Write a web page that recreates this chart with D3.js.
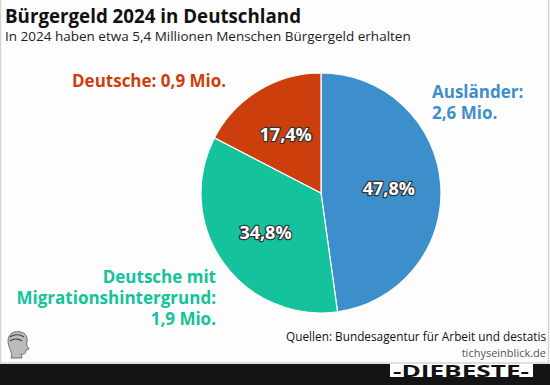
<!DOCTYPE html>
<meta charset="utf-8">
<head>
  <script src="https://cdn.jsdelivr.net/npm/d3@7"></script>
  <style>
    body { margin: 0; background: #141414; }
    text { font-family: "Open Sans", "Noto Sans", sans-serif; }
  </style>
</head>
<body>
<div id="chart"></div>
<script>
  // data
  const groups = ["Ausländer", "Deutsche mit Migrationshintergrund", "Deutsche"];
  const shares = [47.8, 34.8, 17.4];
  const shareLabels = ["47,8%", "34,8%", "17,4%"];
  const nameLines = [["Ausländer:", "2,6 Mio."], ["Deutsche mit", "Migrationshintergrund:", "1,9 Mio."], ["Deutsche: 0,9 Mio."]];
  const colors = ["#3d8fcc", "#14c29b", "#cc3f0c"];

  const width = 550, height = 385;
  const cx = 321, cy = 193, r = 120;

  var svg = d3.select("#chart").append("svg")
      .attr("width", width).attr("height", height);

  // white card
  svg.append("rect").attr("x", 0).attr("y", 0).attr("width", width).attr("height", 364)
     .attr("fill", "#fdfdfd");
  svg.append("rect").attr("x", 0.5).attr("y", -1).attr("width", width - 2).attr("height", 364)
     .attr("fill", "none").attr("stroke", "#d4d4d4").attr("stroke-width", 1.5);

  // titles
  svg.append("text").attr("x", 5).attr("y", 23)
     .attr("font-size", 19).attr("font-weight", "bold").attr("fill", "#111")
     .attr("textLength", 296).attr("lengthAdjust", "spacingAndGlyphs")
     .text("Bürgergeld 2024 in Deutschland");
  svg.append("text").attr("x", 5).attr("y", 41)
     .attr("font-size", 13.5).attr("fill", "#222")
     .text("In 2024 haben etwa 5,4 Millionen Menschen Bürgergeld erhalten");

  // pie
  var pie = d3.pie().sort(null).value(d => d);
  var arc = d3.arc().innerRadius(0).outerRadius(r);
  var labelArc = d3.arc().innerRadius(68).outerRadius(68);
  var arcs = pie(shares);

  var g = svg.append("g").attr("transform", "translate(" + cx + "," + cy + ")");
  g.selectAll("path").data(arcs).enter().append("path")
    .attr("d", arc)
    .attr("fill", (d, i) => colors[i])
    .attr("stroke", "#fff").attr("stroke-width", 1.2);

  g.selectAll("text.pct").data(arcs).enter().append("text")
    .attr("class", "pct")
    .attr("transform", d => "translate(" + labelArc.centroid(d) + ")")
    .attr("text-anchor", "middle").attr("dy", "0.36em")
    .attr("font-size", 18).attr("font-weight", "bold")
    .attr("fill", "#fff").attr("stroke", "#333").attr("stroke-width", 2.5)
    .attr("paint-order", "stroke").attr("stroke-linejoin", "round")
    .text((d, i) => shareLabels[i]);

  // outside labels
  const nameBoxes = [
    {x: 432, y: 98, anchor: "start"},
    {x: 216, y: 283, anchor: "end"},
    {x: 72, y: 87, anchor: "start"}
  ];
  nameLines.forEach(function(lines, i) {
    var t = svg.append("text")
      .attr("x", nameBoxes[i].x).attr("y", nameBoxes[i].y)
      .attr("text-anchor", nameBoxes[i].anchor)
      .attr("font-size", 17).attr("font-weight", "bold").attr("fill", colors[i]);
    lines.forEach(function(l, j) {
      t.append("tspan").attr("x", nameBoxes[i].x).attr("dy", j == 0 ? 0 : 21).text(l);
    });
  });

  // sources
  svg.append("text").attr("x", 546).attr("y", 341).attr("text-anchor", "end")
     .attr("font-family", "Lato, sans-serif").attr("font-size", 11.8).attr("fill", "#111")
     .text("Quellen: Bundesagentur für Arbeit und destatis");
  svg.append("text").attr("x", 546).attr("y", 357).attr("text-anchor", "end")
     .attr("font-family", "Lato, sans-serif").attr("font-size", 11).attr("fill", "#555")
     .text("tichyseinblick.de");

  // small head logo (rough)
  var logo = svg.append("g").attr("transform", "translate(6,331)");
  logo.append("path")
     .attr("d", "M6,2 C12,-1 20,1 21,7 C22,10 20,12 21,15 L23,18 L20,19 C20,22 18,24 15,23 L16,27 L5,27 C7,22 4,20 3,15 C1,10 2,5 6,2 Z")
     .attr("fill", "#bbb").attr("stroke", "#555").attr("stroke-width", 0.8);
  logo.append("path").attr("d", "M4,6 C8,3 14,3 18,6 M4,10 C8,7 13,8 16,10")
     .attr("fill", "none").attr("stroke", "#444").attr("stroke-width", 1.2);

  // bottom banner logo
  svg.append("rect").attr("x", 390).attr("y", 364).attr("width", 143).attr("height", 13).attr("fill", "#fff");
  svg.append("text").attr("x", 461).attr("y", 376.5).attr("text-anchor", "middle")
     .attr("font-family", "Liberation Serif, serif").attr("font-size", 16).attr("font-weight", "bold")
     .attr("fill", "#111").attr("textLength", 136).attr("lengthAdjust", "spacingAndGlyphs")
     .text("-DIEBESTE-");
</script>
</body>
